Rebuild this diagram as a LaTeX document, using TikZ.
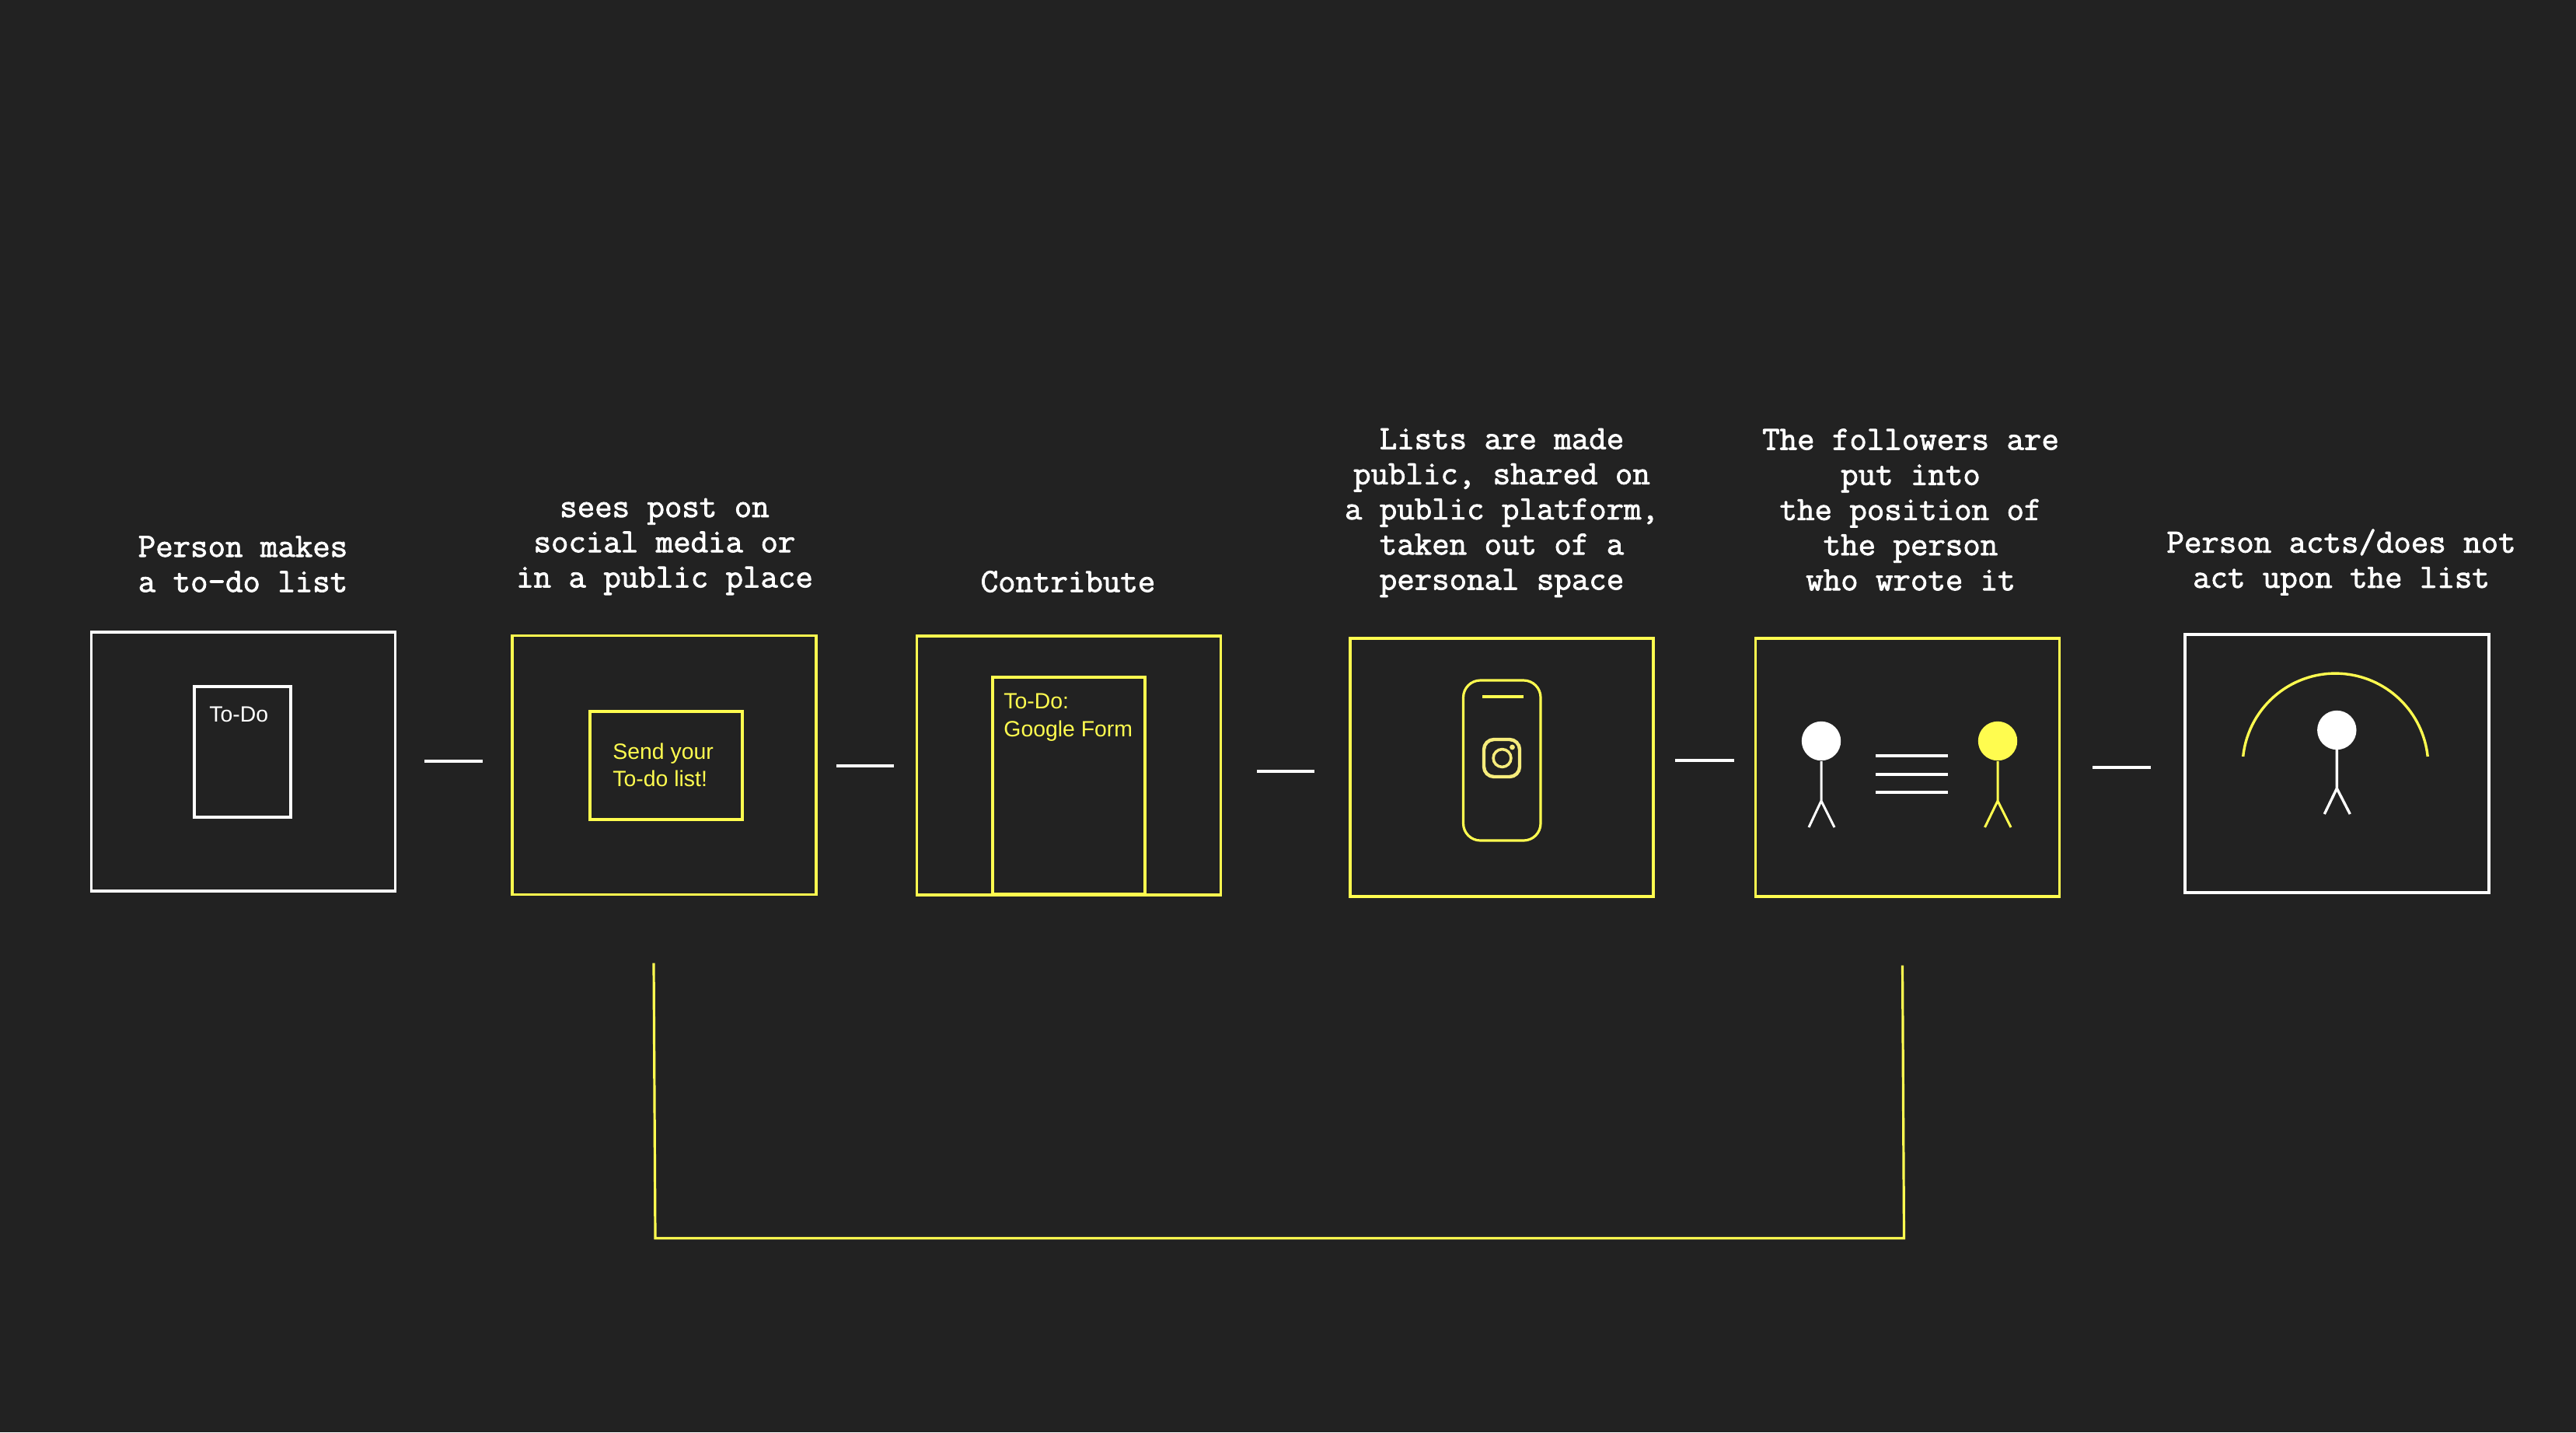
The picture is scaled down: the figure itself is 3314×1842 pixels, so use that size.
\documentclass[tikz,border=0pt]{standalone}
\usepackage{fontspec}
\setmainfont{Liberation Sans}
\newfontfamily\ttlface[FakeBold=1.9]{Latin Modern Mono}
\definecolor{bgc}{HTML}{222222}
\definecolor{yel}{HTML}{FFFC4F}
\definecolor{igc}{HTML}{F6EC7C}
\newcommand{\titlefont}{\fontsize{21.8}{22.6}\ttlface\selectfont}
\newcommand{\labelfont}{\fontsize{14.2}{17.8}\selectfont}
\tikzset{
  x=0.5pt,y=-0.5pt,
  ttl/.style={text=white,font=\titlefont,align=center,inner sep=0pt},
  frm/.style={draw=#1,line width=1.6pt,inner sep=0pt,outer sep=0pt},
  lbl/.style={text=#1,font=\labelfont,align=left,inner sep=0pt,anchor=west},
  dashline/.style={draw=white,line width=2pt},
  stick/.style={draw=#1,line width=1.5pt},
}
\newcommand{\pbox}[6]{\node[frm=#6,minimum width=#4*0.5pt,minimum height=#5*0.5pt] (#1) at (#2,#3) {};}
\begin{document}
\begin{tikzpicture}
\useasboundingbox (0,0) rectangle (3314,1842);
\fill[bgc] (0,0) rectangle (3314,1842);
% titles
\node[ttl] (t1) at (312.5,725.5) {Person makes\\a to-do list};
\node[ttl] (t2) at (855,703) {sees post on\\social media or\\in a public place};
\node[ttl] (t3) at (1374,748) {Contribute};
\node[ttl] (t4) at (1932,659.5) {Lists are made\\public, shared on\\a public platform,\\taken out of a\\personal space};
\node[ttl] (t5) at (2458,655.5) {The followers are\\put into\\the position of\\the person\\who wrote it};
\node[ttl] (t6) at (3012,723) {Person acts/does not\\act upon the list};
% frames
\pbox{b1}{313}{979.5}{391.5}{333}{white}
\pbox{i1}{312}{967}{124}{168}{white}
\pbox{b2}{854.5}{984}{391}{333}{yel}
\pbox{i2}{857}{984.5}{196}{139}{yel}
\pbox{b3}{1375}{984.5}{391}{333}{yel}
\pbox{i3}{1375}{1010.5}{196}{279}{yel}
\pbox{b4}{1932}{987}{390}{332}{yel}
\pbox{b5}{2454}{987}{391}{332}{yel}
\pbox{b6}{3006.5}{982}{391}{332}{white}
% labels
\node[lbl=white] (l1) at (269,919) {To-Do};
\node[lbl=yel] (l2) at (788,984) {Send your\\To-do list!};
\node[lbl=yel,anchor=north west] (l3) at (1291,892) {To-Do:\\Google Form};
% dashes between frames
\foreach \n/\xa/\xb/\yy in {1/546/621/979,2/1076/1150/985,3/1617/1691/992,4/2155/2231/978,5/2692/2767/987}{
  \coordinate (d\n a) at (\xa,\yy);
  \coordinate (d\n b) at (\xb,\yy);
  \draw[dashline] (d\n a) -- (d\n b);
}
% phone
\draw[yel,line width=1.6pt,rounded corners=11pt] (1882.5,875) rectangle (1982,1081);
\coordinate (pa) at (1907,896); \coordinate (pb) at (1960,896);
\draw[yel,line width=2pt] (pa) -- (pb);
\draw[igc,line width=2.2pt,rounded corners=6.5pt] (1909,951) rectangle (1955,999);
\draw[igc,line width=1.8pt] (1932.5,975) circle[radius=5.7pt];
\fill[igc] (1945.5,961) circle[radius=1.7pt];
% person white
\fill[white] (2343,953) circle[radius=12.6pt];
\coordinate (wn) at (2343,979); \coordinate (wh) at (2343,1030);
\coordinate (wl) at (2327,1064); \coordinate (wr) at (2360,1064);
\draw[stick=white] (wn) -- (wh) (wl) -- (wh) -- (wr);
% equal lines
\foreach \n/\yy in {1/972,2/996,3/1019}{
  \coordinate (ea\n) at (2413,\yy); \coordinate (eb\n) at (2506,\yy);
  \draw[dashline] (ea\n) -- (eb\n);
}
% person yellow
\fill[yel] (2570,953) circle[radius=12.6pt];
\coordinate (yn) at (2570,979); \coordinate (yh) at (2570,1030);
\coordinate (yl) at (2553.5,1064); \coordinate (yr) at (2587,1064);
\draw[stick=yel] (yn) -- (yh) (yl) -- (yh) -- (yr);
% arc and last person
\draw[yel,line width=1.7pt] (2885.7,973) arc[start angle=174,end angle=6,radius=59.7pt];
\fill[white] (3006.3,939) circle[radius=12.6pt];
\coordinate (sn) at (3006.3,960); \coordinate (sh) at (3006.3,1014);
\coordinate (sl) at (2990.3,1047); \coordinate (sr) at (3023.3,1047);
\draw[stick=white,line width=1.7pt] (sn) -- (sh) (sl) -- (sh) -- (sr);
% bracket
\coordinate (ba) at (841,1238.5); \coordinate (bb) at (843,1592.5);
\coordinate (bc) at (2449.5,1592.5); \coordinate (bd) at (2447.5,1241.5);
\draw[yel,line width=1.6pt] (ba) -- (bb) -- (bc) -- (bd);
\end{tikzpicture}
\end{document}
